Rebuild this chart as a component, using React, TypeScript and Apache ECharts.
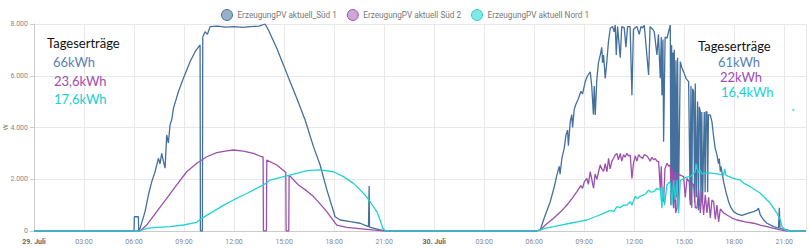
import React, { useEffect, useRef } from "react";
import * as echarts from "echarts";

// x values are hours since 29. Juli 00:00, y values are watts
const seriesNames = [
  "ErzeugungPV aktuell_Süd 1",
  "ErzeugungPV aktuell Süd 2",
  "ErzeugungPV aktuell Nord 1",
];
const dayLabels = ["29. Juli", "30. Juli"];
const yTicks = [0, 2000, 4000, 6000, 8000];

const sued1Day1: number[][] = [
  [0, 0], [6.0, 0], [6.02, 550], [6.26, 550], [6.28, 0], [6.36, 100], [6.66, 750], [6.86, 1390],
  [7.06, 1900], [7.26, 2290], [7.46, 2810], [7.56, 2600], [7.66, 3000], [7.76, 2700], [7.86, 2430],
  [7.96, 3710], [8.06, 3400], [8.16, 4100], [8.26, 4300], [8.36, 4740], [8.66, 5380], [8.96, 5900],
  [9.36, 6540], [9.66, 6930], [9.96, 7190], [9.98, 0], [10.1, 0], [10.12, 7500], [10.26, 7700],
  [10.4, 7600], [10.56, 7900], [11.0, 7920], [11.5, 7880], [12.0, 7900], [12.5, 7870], [13.0, 7900],
  [13.5, 7920], [13.86, 8000], [14.06, 7770], [14.56, 7060], [14.96, 6420], [15.36, 5770],
  [15.76, 5130], [16.26, 4290], [16.76, 3260], [17.16, 2550], [17.56, 1600], [18.06, 553],
  [18.36, 425], [18.96, 360], [19.56, 300], [20.06, 166], [20.08, 160], [20.1, 1740], [20.12, 150],
  [20.76, 39], [21.16, 0],
];
const sued1Day2: number[][] = [
  [29.9, 0], [30.15, 0], [30.36, 40], [30.6, 500], [30.96, 1130], [31.2, 1700], [31.36, 2160],
  [31.5, 2500], [31.55, 2200], [31.66, 2810], [31.8, 3200], [31.9, 3700], [32.0, 3900], [32.05, 3300],
  [32.16, 4220], [32.25, 4500], [32.3, 4000], [32.4, 4700], [32.5, 4900], [32.66, 5130], [32.8, 5400],
  [32.9, 5300], [33.06, 5770], [33.2, 6000], [33.36, 6150], [33.45, 5600], [33.55, 4500], [33.6, 5600],
  [33.66, 4480], [33.75, 5800], [33.85, 6500], [33.96, 6800], [34.05, 7100], [34.1, 6500], [34.16, 6800],
  [34.26, 5900], [34.35, 6500], [34.45, 7300], [34.56, 7835], [34.7, 7900], [34.8, 7700], [34.86, 7960],
  [34.92, 6800], [35.0, 7900], [35.16, 6700], [35.25, 7900], [35.4, 7850], [35.5, 7100], [35.6, 7900],
  [35.75, 7900], [35.86, 5250], [35.95, 7800], [36.16, 7900], [36.3, 7600], [36.4, 7900], [36.5, 7850],
  [36.6, 7950], [36.86, 6030], [36.95, 7900], [37.1, 7800], [37.2, 7700], [37.36, 6800], [37.45, 7600],
  [37.56, 5900], [37.62, 7500], [37.66, 5250], [37.72, 7400], [37.76, 3450], [37.85, 7500],
  [37.96, 7450], [38.16, 7960], [38.2, 1000], [38.24, 7190], [38.28, 1200], [38.32, 6900], [38.36, 900],
  [38.4, 7000], [38.45, 1100], [38.5, 6600], [38.55, 1300], [38.6, 6700], [38.65, 900], [38.76, 6540],
  [38.86, 6300], [38.96, 6150], [39.1, 5900], [39.26, 5770], [39.35, 1200], [39.4, 5600], [39.45, 900],
  [39.5, 5500], [39.56, 5380], [39.62, 1100], [39.66, 5700], [39.72, 1300], [39.8, 5000], [39.85, 800],
  [39.9, 4800], [39.96, 4610], [40.0, 1100], [40.05, 4600], [40.1, 1200], [40.2, 4600], [40.25, 1500],
  [40.3, 4600], [40.36, 4610], [40.4, 1500], [40.45, 4500], [40.56, 4480], [40.66, 4220], [40.75, 3700],
  [40.85, 3200], [40.96, 2940], [41.05, 2600], [41.1, 2800], [41.16, 2290], [41.2, 2500], [41.36, 1900],
  [41.5, 1500], [41.66, 1130], [41.8, 900], [41.96, 750], [42.2, 650], [42.46, 600], [42.8, 680],
  [43.16, 750], [43.36, 810], [43.45, 880], [43.56, 620], [43.76, 425], [43.96, 300], [44.36, 170],
  [44.65, 110], [44.7, 900], [44.74, 100], [45.16, 40], [45.4, 0], [46.3, 0],
];
const sued2Day1: number[][] = [
  [0, 0], [6.36, 0], [6.76, 230], [7.36, 750], [7.96, 1260], [8.56, 1780], [9.16, 2290], [9.76, 2620],
  [10.36, 2870], [10.96, 3030], [11.56, 3100], [11.96, 3130], [12.56, 3090], [13.16, 3000],
  [13.66, 2870], [13.74, 2860], [13.76, 0], [13.94, 0], [13.96, 2740], [14.56, 2550], [15.06, 2290],
  [15.1, 2280], [15.12, 0], [15.28, 0], [15.3, 2160], [15.86, 1780], [16.36, 1550], [16.76, 1330],
  [17.16, 1050], [17.56, 750], [18.16, 230], [18.76, 143], [19.96, 66], [20.76, 12], [21.16, 0],
];
const sued2Day2: number[][] = [
  [29.9, 0], [30.15, 0], [30.36, 40], [30.7, 250], [31.16, 490], [31.6, 750], [31.96, 1005],
  [32.3, 1280], [32.56, 1520], [32.8, 1750], [32.9, 1650], [33.0, 1900], [33.16, 2030], [33.25, 1800],
  [33.36, 2290], [33.45, 2000], [33.56, 1650], [33.65, 2200], [33.76, 2000], [33.86, 2290],
  [33.96, 2550], [34.05, 2400], [34.16, 2300], [34.26, 2600], [34.36, 2290], [34.46, 2810],
  [34.55, 2400], [34.66, 2700], [34.76, 2810], [34.86, 2940], [34.96, 3000], [35.05, 2750],
  [35.16, 3000], [35.25, 2700], [35.36, 2950], [35.45, 2850], [35.56, 3000], [35.66, 2900],
  [35.76, 2940], [35.86, 2030], [35.95, 2600], [36.06, 2900], [36.16, 2700], [36.26, 2950],
  [36.36, 2870], [36.5, 2800], [36.6, 2950], [36.76, 2900], [36.86, 2810], [36.95, 2700],
  [37.06, 2850], [37.16, 2750], [37.26, 2800], [37.36, 2700], [37.46, 2680], [37.56, 1650],
  [37.62, 2500], [37.68, 1300], [37.76, 1130], [37.84, 2400], [37.96, 2620], [38.06, 2500],
  [38.16, 2550], [38.22, 1200], [38.28, 2400], [38.36, 880], [38.42, 2300], [38.48, 700], [38.56, 880],
  [38.62, 2200], [38.76, 2160], [38.96, 2100], [39.06, 1300], [39.16, 2030], [39.3, 1900], [39.36, 1000],
  [39.46, 1850], [39.56, 1780], [39.66, 900], [39.76, 880], [39.86, 1600], [39.96, 700], [40.06, 1500],
  [40.16, 620], [40.26, 1400], [40.36, 700], [40.46, 1300], [40.56, 500], [40.66, 1200], [40.76, 1130],
  [40.86, 450], [40.96, 1000], [41.06, 350], [41.16, 850], [41.36, 700], [41.56, 620], [41.86, 500],
  [42.16, 425], [42.66, 350], [43.16, 300], [43.56, 230], [43.96, 166], [44.36, 100], [44.76, 40],
  [45.1, 0], [46.3, 0],
];
const nord1Day1: number[][] = [
  [0, 0], [6.36, 0], [6.76, 100], [7.36, 143], [8.16, 166], [8.96, 232], [9.76, 336], [10.06, 490],
  [10.56, 683], [11.36, 990], [11.96, 1200], [12.76, 1450], [13.76, 1780], [14.16, 1970],
  [15.16, 2130], [15.76, 2230], [16.36, 2330], [17.16, 2360], [17.96, 2290], [18.56, 2100],
  [19.16, 1840], [19.76, 1460], [20.16, 1130], [20.56, 750], [20.76, 425], [20.92, 104], [21.06, 12],
  [21.2, 0],
];
const nord1Day2: number[][] = [
  [29.9, 0], [30.15, 0], [30.36, 40], [30.7, 110], [31.16, 166], [31.6, 230], [32.16, 300],
  [32.66, 360], [33.16, 425], [33.66, 550], [34.16, 684], [34.56, 800], [34.76, 746], [34.96, 940],
  [35.16, 900], [35.36, 1000], [35.56, 1005], [35.76, 1130], [35.86, 1000], [36.06, 1330],
  [36.2, 1250], [36.36, 1350], [36.56, 1390], [36.7, 1450], [36.86, 1580], [37.0, 1500], [37.16, 1520],
  [37.36, 1650], [37.46, 1600], [37.56, 1650], [37.66, 880], [37.72, 1700], [37.82, 1000],
  [37.96, 1780], [38.06, 1850], [38.16, 1900], [38.26, 1000], [38.36, 1970], [38.46, 1200],
  [38.56, 1970], [38.66, 684], [38.76, 1950], [38.96, 2030], [39.16, 2080], [39.36, 2100], [39.5, 2200],
  [39.66, 2290], [39.7, 2600], [39.76, 2420], [39.86, 2250], [39.96, 2350], [40.06, 2200],
  [40.16, 2230], [40.36, 2250], [40.56, 2240], [40.76, 2230], [41.06, 2200], [41.36, 2160],
  [41.42, 2400], [41.5, 2150], [41.96, 2030], [42.36, 1970], [42.56, 1850], [42.96, 1713],
  [43.56, 1456], [44.16, 1070], [44.56, 684], [44.76, 425], [44.86, 166], [45.06, 40], [45.3, 0],
  [46.3, 0],
];
const nord1Stray: number[][] = [[45.54, 4680]];

const yieldTitle = "Tageserträge";
const yieldsDay1 = ["66kWh", "23,6kWh", "17,6kWh"];
const yieldsDay2 = ["61kWh", "22kWh", "16,4kWh"];

const lineColors = ["#44709d", "#9c4fac", "#1fd3d3"];
const legendFill = ["rgba(68,112,157,0.55)", "rgba(156,79,172,0.5)", "rgba(31,211,211,0.55)"];
const textColors = ["#5a80b4", "#a04cb0", "#1ad0d0"];

function fmtThousands(v: number): string {
  if (v >= 1000) {
    const k = Math.floor(v / 1000);
    const r = Math.round(v % 1000);
    return `${k}.${String(r).padStart(3, "0")}`;
  }
  return String(v);
}

export default function App() {
  const ref = useRef<HTMLDivElement>(null);
  useEffect(() => {
    if (!ref.current) return;
    const chart = echarts.init(ref.current, undefined, { renderer: "svg" });
    const annFont = "Lato, 'Liberation Sans', sans-serif";
    const mkText = (x: number, y: number, text: string, fill: string) => ({
      type: "text",
      x,
      y,
      style: { text, fill, font: `13px ${annFont}`, textVerticalAlign: "middle" },
      z: 100,
    });
    const graphics: any[] = [
      mkText(47, 43, yieldTitle, "#111"),
      mkText(53, 62, yieldsDay1[0], textColors[0]),
      mkText(54, 81, yieldsDay1[1], textColors[1]),
      mkText(54, 99, yieldsDay1[2], textColors[2]),
      mkText(698, 46, yieldTitle, "#111"),
      mkText(718, 62, yieldsDay2[0], textColors[0]),
      mkText(720, 77, yieldsDay2[1], textColors[1]),
      mkText(721, 92, yieldsDay2[2], textColors[2]),
    ];
    const data = [
      [...sued1Day1, ...sued1Day2],
      [...sued2Day1, ...sued2Day2],
      [...nord1Day1, ...nord1Day2],
    ];
    chart.setOption({
      animation: false,
      textStyle: { fontFamily: "Roboto, sans-serif" },
      legend: {
        data: seriesNames.map((n, i) => ({
          name: n,
          icon: "circle",
          itemStyle: { color: legendFill[i], borderColor: lineColors[i], borderWidth: 1 },
        })),
        top: 4,
        left: "center",
        itemWidth: 11,
        itemHeight: 11,
        itemGap: 10,
        textStyle: { color: "#777", fontSize: 8.2, fontFamily: "Roboto, sans-serif" },
      },
      grid: { left: 34, right: 4, top: 24, bottom: 19, outerBoundsMode: "none", containLabel: false },
      xAxis: {
        type: "value",
        min: 0,
        max: 46.3,
        interval: 3,
        axisLine: { show: true, lineStyle: { color: "#ccc" } },
        axisTick: { show: false },
        splitLine: { show: true, lineStyle: { color: "#e8e8e8", width: 1 } },
        axisLabel: {
          showMaxLabel: false,
          margin: 7,
          fontSize: 7,
          color: "#888",
          formatter: (v: number) => {
            if (Math.abs(v % 3) > 1e-6) return "";
            if (v % 24 === 0) return `{b|${dayLabels[v / 24]}}`;
            const h = v % 24;
            return `${String(h).padStart(2, "0")}:00`;
          },
          rich: { b: { fontWeight: "bold", color: "#666", fontSize: 7 } },
        },
      },
      yAxis: {
        type: "value",
        min: yTicks[0],
        max: yTicks[yTicks.length - 1],
        interval: 2000,
        name: "W",
        nameLocation: "middle",
        nameGap: 25,
        nameRotate: 90,
        nameMoveOverlap: false,
        nameTextStyle: { color: "#777", fontSize: 7 },
        axisLine: { show: true, lineStyle: { color: "#ccc" } },
        axisTick: { show: true, length: 4, lineStyle: { color: "#ccc" } },
        splitLine: { show: true, lineStyle: { color: "#e8e8e8" } },
        axisLabel: { fontSize: 7, color: "#888", margin: 6, formatter: (v: number) => fmtThousands(v) },
      },
      series: [
        ...seriesNames.map((n, i) => ({
          name: n,
          type: "line",
          data: data[i],
          showSymbol: false,
          symbol: "none",
          lineStyle: { color: lineColors[i], width: 1.3 },
          itemStyle: { color: lineColors[i] },
        })),
        {
          name: "nord1Stray",
          type: "scatter",
          data: nord1Stray,
          symbol: "rect",
          symbolSize: 2,
          itemStyle: { color: lineColors[2] },
        },
      ],
      graphic: graphics,
    });
    return () => chart.dispose();
  }, []);
  return (
    <div
      ref={ref}
      style={{ width: 810, height: 250, position: "absolute", left: 0, top: 0 }}
    />
  );
}
